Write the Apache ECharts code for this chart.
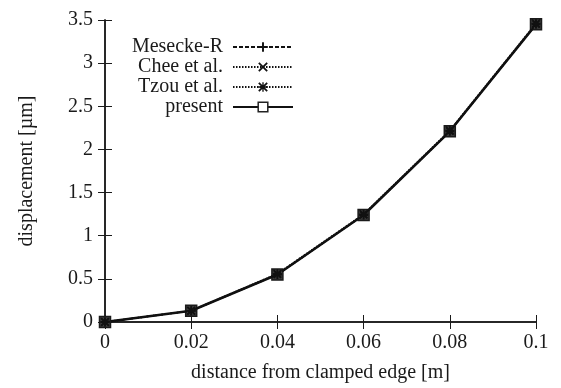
<!DOCTYPE html>
<html>
<head>
<meta charset="utf-8">
<script src="https://cdn.jsdelivr.net/npm/echarts@6/dist/echarts.min.js"></script>
<style>
html,body{margin:0;padding:0;background:#fff;}
#c{width:561px;height:388px;}
</style>
</head>
<body>
<div id="c"></div>
<script>
// ---- data ----
const xValues = [0, 0.02, 0.04, 0.06, 0.08, 0.1];
const meseckeR = [0, 0.13, 0.55, 1.24, 2.21, 3.45];
const cheeEtAl = [0, 0.13, 0.55, 1.24, 2.21, 3.45];
const tzouEtAl = [0, 0.13, 0.56, 1.25, 2.22, 3.46];
const present = [0, 0.13, 0.55, 1.24, 2.21, 3.45];
const seriesNames = ['Mesecke-R', 'Chee et al.', 'Tzou et al.', 'present'];
const xTicks = { min: 0, max: 0.1, interval: 0.02 };
const yTicks = { min: 0, max: 3.5, interval: 0.5 };

const pair = (ys) => xValues.map((x, i) => [x, ys[i]]);

const plusPath = 'path://M4 0H6V4H10V6H6V10H4V6H0V4H4Z';
const crossPath = 'path://M0 1.3L1.3 0L10 8.7L8.7 10ZM8.7 0L10 1.3L1.3 10L0 8.7Z';
const starPath = 'path://M4.3 0H5.7V4.3H10V5.7H5.7V10H4.3V5.7H0V4.3H4.3ZM0 1.3L1.3 0L10 8.7L8.7 10ZM8.7 0L10 1.3L1.3 10L0 8.7Z';

const font = 'Liberation Serif, Times New Roman, serif';
const axisCol = '#1a1a1a';

const chart = echarts.init(document.getElementById('c'), null, { renderer: 'canvas' });
chart.setOption({
  animation: false,
  backgroundColor: '#fff',
  textStyle: { fontFamily: font },
  grid: { left: 105, right: 25, top: 20, bottom: 65, containLabel: false },
  legend: {
    orient: 'vertical',
    align: 'right',
    right: 262,
    top: 32,
    itemWidth: 60,
    itemHeight: 12,
    itemGap: 0,
    data: [
      'Mesecke-R', 'Chee et al.', 'Tzou et al.',
      { name: 'present', itemStyle: { color: '#fff', borderColor: '#222', borderWidth: 1.5 } }
    ],
    textStyle: { fontFamily: font, fontSize: 20, color: '#1a1a1a', padding: [0, 5, 0, 0] },
    selectedMode: false
  },
  xAxis: [{
    type: 'value', min: xTicks.min, max: xTicks.max, interval: xTicks.interval,
    name: 'distance from clamped edge [m]', nameLocation: 'middle', nameGap: 41,
    nameTextStyle: { fontFamily: font, fontSize: 20, color: '#1a1a1a' },
    axisLine: { show: true, lineStyle: { color: axisCol, width: 1.5 } },
    axisTick: { show: true, inside: true, length: 7, lineStyle: { color: axisCol, width: 1 } },
    axisLabel: { fontFamily: font, fontSize: 20, color: '#1a1a1a', margin: 11 },
    splitLine: { show: false }
  }, {
    type: 'value', position: 'top', min: xTicks.min, max: xTicks.max, interval: xTicks.interval,
    axisLine: { show: true, lineStyle: { color: axisCol, width: 1.5 } },
    axisTick: { show: true, inside: true, length: 7, lineStyle: { color: axisCol, width: 1 } },
    axisLabel: { show: false }, splitLine: { show: false }
  }],
  yAxis: [{
    type: 'value', min: yTicks.min, max: yTicks.max, interval: yTicks.interval,
    name: 'displacement [µm]', nameLocation: 'middle', nameGap: 68,
    nameTextStyle: { fontFamily: font, fontSize: 20, color: '#1a1a1a' },
    axisLine: { show: true, lineStyle: { color: axisCol, width: 1.5 } },
    axisTick: { show: true, inside: true, length: 7, lineStyle: { color: axisCol, width: 1 } },
    axisLabel: { fontFamily: font, fontSize: 20, color: '#1a1a1a', margin: 12 },
    splitLine: { show: false }
  }, {
    type: 'value', position: 'right', min: yTicks.min, max: yTicks.max, interval: yTicks.interval,
    axisLine: { show: true, lineStyle: { color: axisCol, width: 1.5 } },
    axisTick: { show: true, inside: true, length: 7, lineStyle: { color: axisCol, width: 1 } },
    axisLabel: { show: false }, splitLine: { show: false }
  }],
  series: [
    {
      name: 'present', type: 'line', data: pair(present),
      symbol: 'rect', symbolSize: 11,
      lineStyle: { color: '#111', width: 2.6, type: 'solid' },
      itemStyle: { color: '#3a3a3a', borderColor: '#1a1a1a', borderWidth: 1.5 },
      z: 2
    },
    {
      name: 'Mesecke-R', type: 'line', data: pair(meseckeR),
      symbol: plusPath, symbolSize: 9,
      lineStyle: { color: '#111', width: 1.6, type: [4, 2] },
      itemStyle: { color: '#111' },
      z: 3
    },
    {
      name: 'Chee et al.', type: 'line', data: pair(cheeEtAl),
      symbol: crossPath, symbolSize: 8,
      lineStyle: { color: '#111', width: 1.6, type: [1.5, 1.5] },
      itemStyle: { color: '#111' },
      z: 4
    },
    {
      name: 'Tzou et al.', type: 'line', data: pair(tzouEtAl),
      symbol: starPath, symbolSize: 9,
      lineStyle: { color: '#111', width: 1.6, type: [1.5, 1.5] },
      itemStyle: { color: '#111' },
      z: 5
    }
  ]
});
</script>
</body>
</html>
